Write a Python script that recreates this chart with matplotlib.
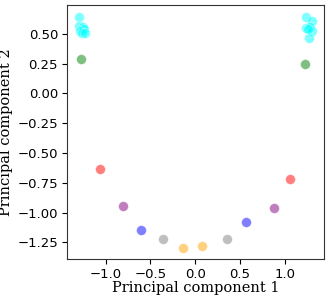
import numpy as np
import matplotlib
matplotlib.use('Agg')
import matplotlib.pyplot as plt

# PCA projection, one colour per group
pc1_cyan = [-1.293, -1.297, -1.256, -1.241, -1.285, -1.266, -1.225,
            1.240, 1.304, 1.240, 1.285, 1.304, 1.274, 1.266]
pc2_cyan = [0.643, 0.565, 0.559, 0.537, 0.525, 0.508, 0.503,
            0.637, 0.610, 0.545, 0.553, 0.525, 0.466, 0.536]
pc1_pairs = {
  'green':  [-1.277, 1.229],
  'red':    [-1.065, 1.061],
  'purple': [-0.810, 0.886],
  'blue':   [-0.610, 0.570],
  'gray':   [-0.357, 0.361],
  'orange': [-0.134, 0.078],
}
pc2_pairs = {
  'green':  [0.285, 0.248],
  'red':    [-0.638, -0.716],
  'purple': [-0.948, -0.962],
  'blue':   [-1.144, -1.082],
  'gray':   [-1.217, -1.222],
  'orange': [-1.300, -1.278],
}

fig = plt.figure(figsize=(3.29, 3.0), dpi=100)
ax = fig.add_axes([0.204, 0.136, 0.781, 0.847])

ax.scatter(pc1_cyan, pc2_cyan, s=50, c='cyan', alpha=0.5, edgecolors='white', linewidths=0.5)
for col in pc1_pairs:
  ax.scatter(pc1_pairs[col], pc2_pairs[col], s=50, c=col, alpha=0.5,
             edgecolors='white', linewidths=0.5)

ax.set_xlim(-1.43, 1.44)
ax.set_ylim(-1.39, 0.74)
ax.set_xticks([-1.0, -0.5, 0.0, 0.5, 1.0])
ax.set_yticks([-1.25, -1.0, -0.75, -0.5, -0.25, 0.0, 0.25, 0.5])
ax.tick_params(labelsize=9.5, pad=3)
for sp in ax.spines.values():
  sp.set_color('#333333')

ax.set_xlabel('Principal component 1', family='DejaVu Serif', fontsize=10.5, labelpad=0)
ax.set_ylabel('Principal component 2', family='DejaVu Serif', fontsize=10.5, labelpad=3)

fig.savefig('out.png', dpi=100)
